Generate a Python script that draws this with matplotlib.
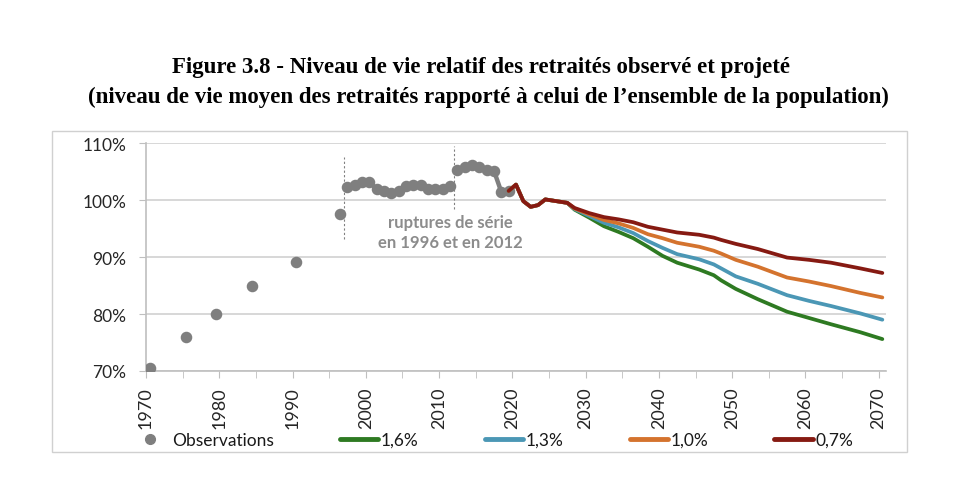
import matplotlib
matplotlib.use("Agg")
import matplotlib.pyplot as plt
from matplotlib.lines import Line2D
from matplotlib.patches import Rectangle
import numpy as np

# ---------------- data ----------------
obs_iso_years = [1970, 1975, 1979, 1984, 1990, 1996]
obs_iso_vals = [70.5, 76.0, 80.0, 85.0, 89.1, 97.5]

obs_s1_years = list(range(1997, 2012))
obs_s1_vals = [102.2, 102.7, 103.1, 103.1, 101.9, 101.5, 101.3, 101.6,
               102.4, 102.7, 102.6, 101.9, 101.9, 102.0, 102.4]

obs_s2_years = list(range(2012, 2020))
obs_s2_vals = [105.2, 105.8, 106.2, 105.8, 105.3, 105.1, 101.4, 101.5]

common_years = list(range(2019, 2028))
common_vals = [101.6, 102.7, 99.8, 98.8, 99.1, 100.1, 99.9, 99.7, 99.5]

tail_years = [2028, 2030, 2032, 2034, 2036, 2038, 2040, 2042, 2045, 2047,
              2048, 2050, 2053, 2057, 2060, 2063, 2067, 2070]
tail_16 = [98.3, 96.9, 95.4, 94.4, 93.3, 91.8, 90.2, 89.0, 87.8, 86.8,
           85.9, 84.4, 82.6, 80.4, 79.3, 78.2, 76.8, 75.6]
tail_13 = [98.4, 97.2, 96.0, 95.2, 94.2, 92.8, 91.6, 90.5, 89.6, 88.7,
           88.0, 86.6, 85.3, 83.3, 82.3, 81.4, 80.1, 79.0]
tail_10 = [98.5, 97.5, 96.5, 95.9, 95.1, 94.0, 93.3, 92.5, 91.8, 91.1,
           90.6, 89.5, 88.3, 86.4, 85.7, 84.9, 83.7, 82.9]
tail_07 = [98.6, 97.7, 97.0, 96.6, 96.1, 95.3, 94.8, 94.3, 93.9, 93.4,
           93.0, 92.3, 91.4, 89.9, 89.5, 89.0, 88.0, 87.2]

scenario_labels = ["1,6%", "1,3%", "1,0%", "0,7%"]
scenario_tails = [tail_16, tail_13, tail_10, tail_07]
scenario_colors = ["#2e7a22", "#4b97b5", "#d4732e", "#861a12"]

break_years = [1997, 2012]
xtick_years = list(range(1970, 2071, 10))
ytick_vals = [70, 80, 90, 100, 110]

title_lines = ["Figure 3.8 - Niveau de vie relatif des retraités observé et projeté",
               "(niveau de vie moyen des retraités rapporté à celui de l\u2019ensemble de la population)"]
note_text = "ruptures de série\nen 1996 et en 2012"

# ---------------- figure ----------------
W, H = 978, 481
fig = plt.figure(figsize=(W / 100, H / 100), dpi=100)
ax = fig.add_axes([146 / W, 1 - 372 / H, (886 - 146) / W, (372 - 144) / H])

sans = ["Lato", "DejaVu Sans"]
gray = "#7f7f7f"
off = 0.5  # category centring

ax.set_ylim(70, 110)
ax.set_xlim(1970, 2071)
ax.set_yticks(ytick_vals)
ax.set_yticklabels([f"{v}%" for v in ytick_vals], fontfamily=sans, fontsize=12.5, color="#262626")
ax.yaxis.grid(True, color="#d4d4d4", lw=1.3)
ax.set_axisbelow(True)
ax.set_xticks(xtick_years)
ax.set_xticklabels([str(y) for y in xtick_years], rotation=90, fontfamily=sans,
                   fontsize=13, color="#262626")
ax.set_xticks(list(range(1975, 2071, 10)), minor=True)
ax.tick_params(axis="x", which="both", direction="out", length=5, color="#bfbfbf", pad=6)
ax.tick_params(axis="y", which="both", direction="out", length=5, color="#bfbfbf", pad=9)
for s in ["top", "right"]:
    ax.spines[s].set_visible(False)
for s in ["left", "bottom"]:
    ax.spines[s].set_color("#bfbfbf")
    ax.spines[s].set_linewidth(1.2)

# break lines
for by, (y0, y1) in zip(break_years, [(93.1, 107.6), (98.4, 109.4)]):
    ax.plot([by, by], [y0, y1], ls=(0, (2, 2)), color="#808080", lw=0.8, zorder=1)

# observations
ax.plot(np.array(obs_iso_years) + off, obs_iso_vals, "o", color=gray, ms=7.3, zorder=3)
for yrs, vals in [(obs_s1_years, obs_s1_vals), (obs_s2_years, obs_s2_vals)]:
    ax.plot(np.array(yrs) + off, vals, "-o", color=gray, ms=7.3, lw=3.2, zorder=3)

# projections
handles = [Line2D([], [], ls="none", marker="o", color=gray, ms=7)]
for lab, tail, col in zip(scenario_labels, scenario_tails, scenario_colors):
    yrs = np.array(common_years + tail_years) + off
    vals = common_vals + tail
    ax.plot(yrs, vals, color=col, lw=2.7, zorder=4, solid_capstyle="round")
    handles.append(Line2D([], [], color=col, lw=3.5, solid_capstyle="round"))

ax.text(2011.5, 94.35, note_text, ha="center", va="center", fontfamily=sans,
        fontweight="bold", fontsize=12, color="#8c8c8c", linespacing=1.35)

fig.legend(handles, ["Observations"] + scenario_labels, ncol=5, frameon=False,
           loc="center", bbox_to_anchor=(124 / W, 1 - 450 / H, 736 / W, 18 / H),
           mode="expand", borderaxespad=0, handlelength=2.2, handletextpad=0.15,
           prop={"family": sans, "size": 12.5})
for t in fig.legends[0].get_texts():
    t.set_color("#1a1a1a")

# title
for i, (line, cx) in enumerate(zip(title_lines, [481, 488])):
    fig.text(cx / W, 1 - (67 + 30 * i) / H, line, ha="center", va="center",
             fontfamily="Liberation Serif", fontweight="bold", fontsize=16.5)

# chart frame
fig.patches.append(Rectangle((51.7 / W, 1 - 453.3 / H), (907 - 51.7) / W, (453.3 - 131.7) / H,
                             transform=fig.transFigure, fill=False, edgecolor="#d0d0d0", lw=1))

fig.savefig("out.png", dpi=100)
